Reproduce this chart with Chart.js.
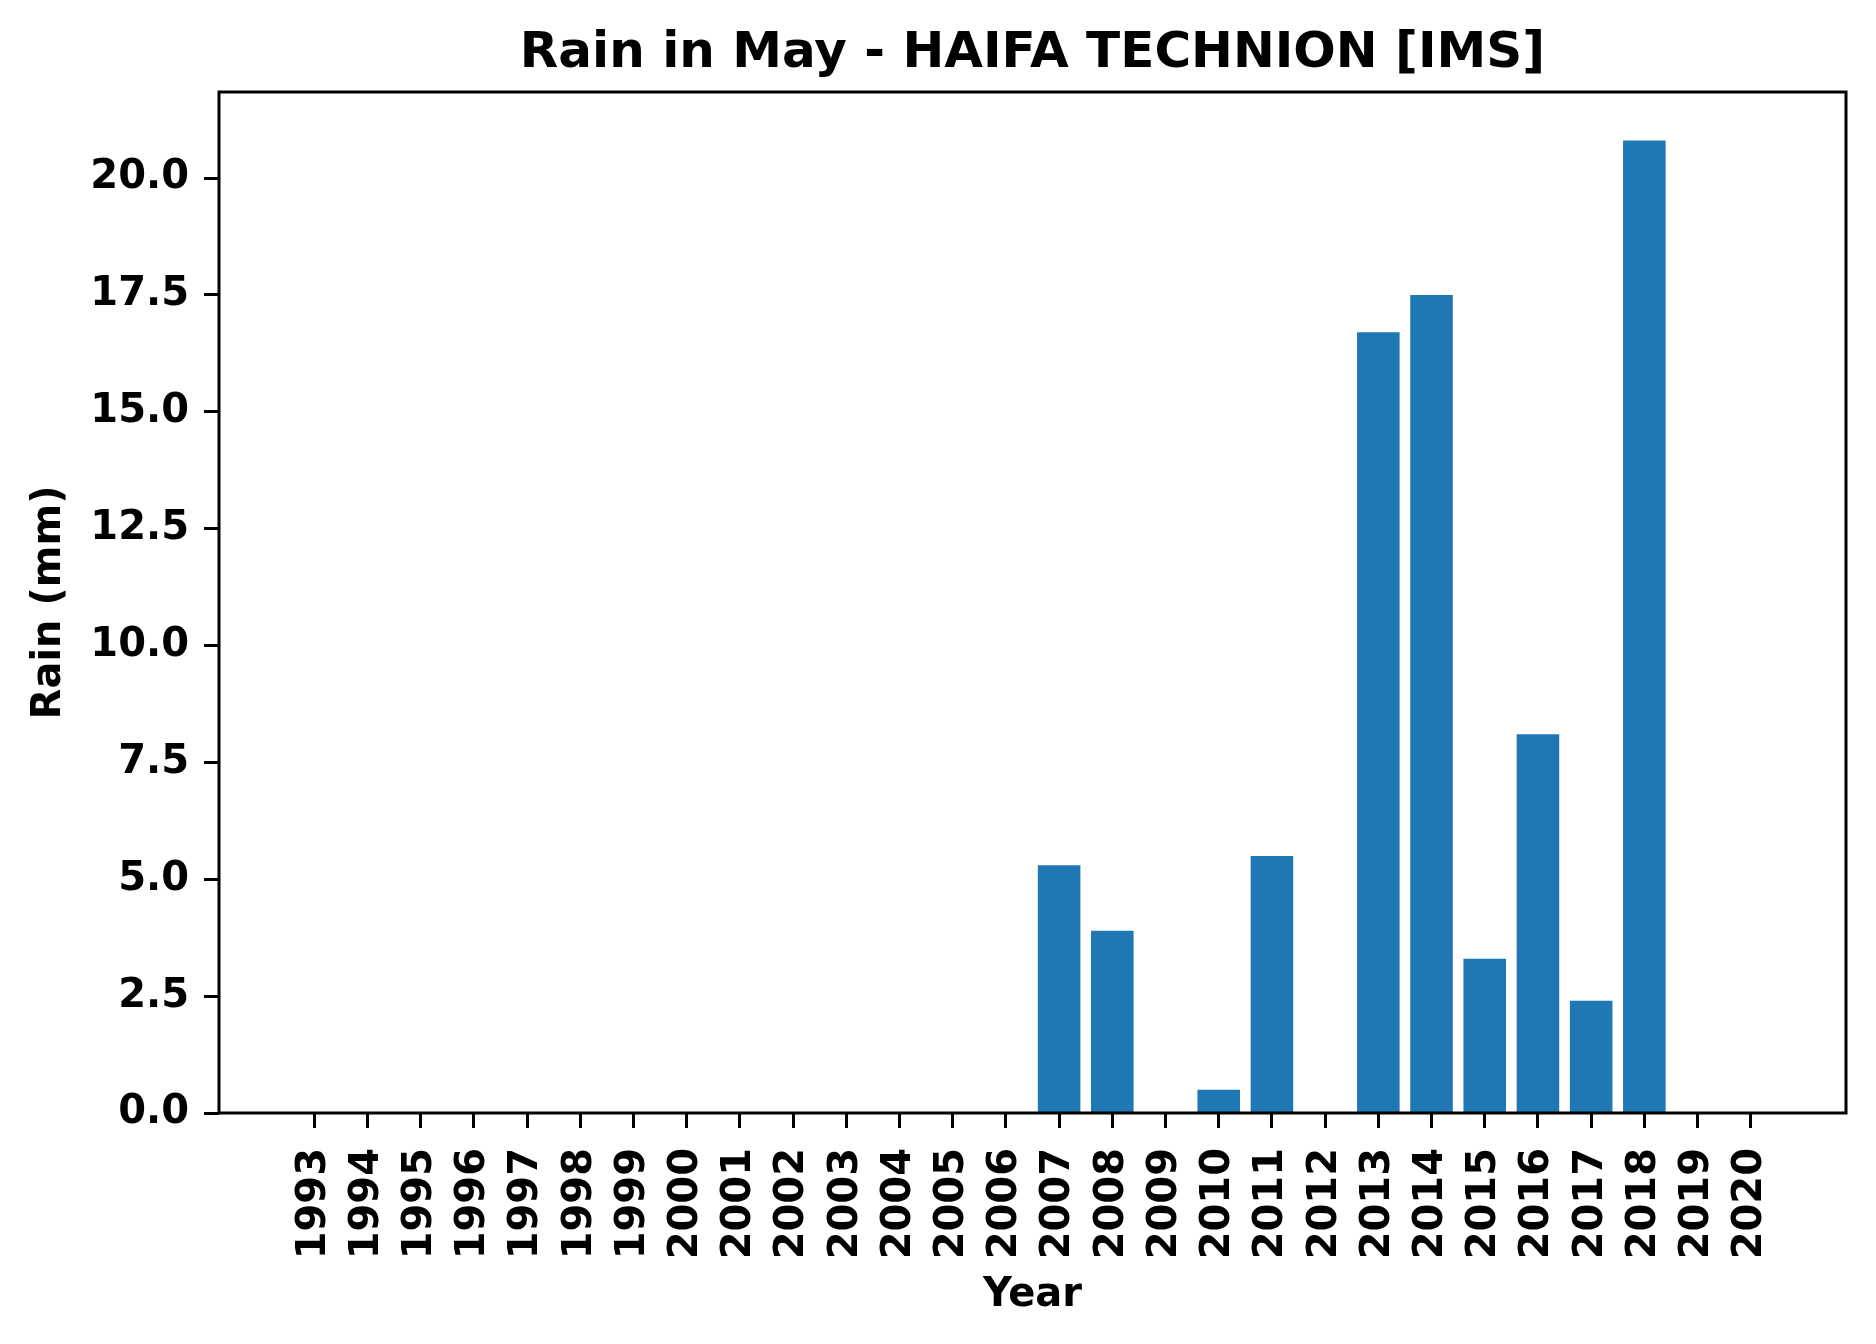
<!DOCTYPE html>
<html>
<head>
<meta charset="utf-8">
<script src="https://cdn.jsdelivr.net/npm/chart.js@4.4.1/dist/chart.umd.min.js"></script>
<style>
  html, body { margin: 0; padding: 0; background: #fff; }
  #wrap { width: 1876px; height: 1344px; }
</style>
</head>
<body>
<div id="wrap"><canvas id="chart" width="1876" height="1344"></canvas></div>
<script>
// data
const years = [1993, 1994, 1995, 1996, 1997, 1998, 1999, 2000, 2001, 2002, 2003, 2004, 2005, 2006,
  2007, 2008, 2009, 2010, 2011, 2012, 2013, 2014, 2015, 2016, 2017, 2018, 2019, 2020];
const rainMm = [0, 0, 0, 0, 0, 0, 0, 0, 0, 0, 0, 0, 0, 0,
  5.3, 3.9, 0, 0.5, 5.5, 0, 16.7, 17.5, 3.3, 8.1, 2.4, 20.8, 0, 0];
const yTicks = [0, 2.5, 5, 7.5, 10, 12.5, 15, 17.5, 20];

const FONT = 'DejaVu Sans';

// box around the plot, like matplotlib spines
const frame = {
  id: 'frame',
  afterDatasetsDraw(chart) {
    const { ctx, chartArea: a } = chart;
    ctx.save();
    ctx.strokeStyle = '#000';
    ctx.lineWidth = 3;
    ctx.strokeRect(a.left, a.top, a.right - a.left, a.bottom - a.top);
    ctx.restore();
  },
};

const initChart = () => {
  const ctx = document.getElementById('chart').getContext('2d');
  new Chart(ctx, {
    type: 'bar',
    data: {
      datasets: [
        {
          label: 'Rain (mm)',
          data: years.map((y, i) => ({ x: y, y: rainMm[i] })),
          backgroundColor: '#1f77b4',
          borderWidth: 0,
          categoryPercentage: 1.0,
          barPercentage: 0.8,
        },
      ],
    },
    options: {
      responsive: false,
      animation: false,
      layout: { padding: { top: 0, right: 30, bottom: 0, left: 0 } },
      plugins: {
        legend: { display: false },
        tooltip: { enabled: false },
      },
      scales: {
        x: {
          type: 'linear',
          offset: false,
          min: 1991.21,
          max: 2021.79,
          afterBuildTicks: (scale) => { scale.ticks = years.map((v) => ({ value: v })); },
          afterFit: (scale) => { scale.height = 231; },
          border: { display: false },
          grid: {
            offset: false,
            drawOnChartArea: false,
            drawTicks: true,
            tickLength: 15,
            tickWidth: 3,
            tickColor: '#000',
          },
          ticks: {
            autoSkip: false,
            maxRotation: 90,
            minRotation: 90,
            padding: 20,
            color: '#000',
            font: { family: FONT, size: 40, weight: 'bold' },
            callback: (v) => String(v),
          },
          title: {
            display: true,
            text: 'Year',
            color: '#000',
            font: { family: FONT, size: 40, weight: 'bold' },
            padding: { top: 0, bottom: 24 },
          },
        },
        // top axis only carries the title, so it is centred over the plot
        top: {
          type: 'linear',
          position: 'top',
          axis: 'x',
          min: 0,
          max: 1,
          afterFit: (scale) => { scale.height = 92; },
          border: { display: false },
          grid: { display: false },
          ticks: { display: false },
          title: {
            display: true,
            text: 'Rain in May - HAIFA TECHNION [IMS]',
            color: '#000',
            font: { family: FONT, size: 50, weight: 'bold' },
            padding: { top: 24, bottom: 0 },
          },
        },
        y: {
          min: 0,
          max: 21.84,
          afterBuildTicks: (scale) => { scale.ticks = yTicks.map((v) => ({ value: v })); },
          afterFit: (scale) => { scale.width = 219; },
          border: { display: false },
          grid: {
            drawOnChartArea: false,
            drawTicks: true,
            tickLength: 15,
            tickWidth: 3,
            tickColor: '#000',
          },
          ticks: {
            padding: 15,
            color: '#000',
            font: { family: FONT, size: 40, weight: 'bold' },
            callback: (v) => v.toFixed(1),
          },
          title: {
            display: true,
            text: 'Rain (mm)',
            color: '#000',
            font: { family: FONT, size: 40, weight: 'bold' },
            padding: { top: 26, bottom: 0 },
          },
        },
      },
    },
    plugins: [frame],
  });
};

window.addEventListener('load', () => {
  initChart();
});
</script>
</body>
</html>
